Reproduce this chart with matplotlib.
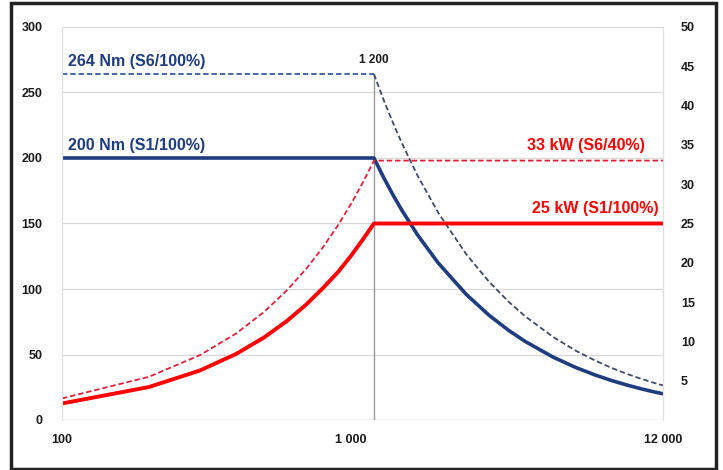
import matplotlib
matplotlib.use('Agg')
import matplotlib.pyplot as plt
from matplotlib.patches import Rectangle
from matplotlib.ticker import FixedLocator, FixedFormatter, NullLocator

plt.rcParams['font.family'] = ['Liberation Sans', 'DejaVu Sans']

# Speed (rpm) points
speed_torque = [100, 1200, 1300, 1400, 1500, 1700, 2000, 2500, 3000, 3500, 4000,
                5000, 6000, 7000, 8000, 9000, 10000, 11000, 12000]
torque_s1 = [200, 200, 184.6, 171.4, 160, 141.2, 120, 96, 80, 68.6, 60,
             48, 40, 34.3, 30, 26.7, 24, 21.8, 20]                       # Nm
torque_s6 = [264, 264, 243.7, 226.3, 211.2, 186.4, 158.4, 126.7, 105.6, 90.5, 79.2,
             63.4, 52.8, 45.3, 39.6, 35.2, 31.7, 28.8, 26.4]             # Nm

speed_power = [100, 200, 300, 400, 500, 600, 700, 800, 900, 1000, 1100, 1200, 12000]
power_s1 = [2.1, 4.2, 6.3, 8.4, 10.5, 12.6, 14.7, 16.8, 18.8, 20.9, 23.0, 25, 25]   # kW
power_s6 = [2.75, 5.5, 8.25, 11.0, 13.75, 16.5, 19.25, 22.0, 24.75, 27.5, 30.25, 33, 33]  # kW

corner_speed = 1200
x_ticks = [100, 1000, 12000]
x_labels = ['100', '1 000', '12 000']
left_ticks = [0, 50, 100, 150, 200, 250, 300]
right_ticks = [5, 10, 15, 20, 25, 30, 35, 40, 45, 50]

navy = '#1f3c7e'
red = '#ff0000'
red_dash = '#e0203a'

fig = plt.figure(figsize=(7.23, 4.70), dpi=100)
ax = fig.add_axes([62 / 723, 50 / 470, 601 / 723, 393 / 470])
ax2 = ax.twinx()

# torque curves (left axis)
ax.plot(speed_torque[:2], torque_s6[:2], color='#3a5a9a', lw=1.3, dashes=(3, 1.6))
ax.plot(speed_torque[1:], torque_s6[1:], color='#404a66', lw=1.3, dashes=(3, 1.6))
ax.plot(speed_torque, torque_s1, color=navy, lw=2.6, solid_joinstyle='round')
ax.plot([corner_speed, corner_speed], [0, torque_s6[0]], color='#9a9a9a', lw=1.0, zorder=1)

# power curves (right axis)
ax2.plot(speed_power, power_s6, color=red_dash, lw=1.3, dashes=(3, 1.6))
ax2.plot(speed_power, power_s1, color=red, lw=2.8, solid_joinstyle='round')

ax.set_xscale('log')
ax.set_xlim(100, 12000)
ax.set_ylim(0, 300)
ax2.set_ylim(0, 50)

ax.xaxis.set_major_locator(FixedLocator(x_ticks))
ax.xaxis.set_major_formatter(FixedFormatter(x_labels))
ax.xaxis.set_minor_locator(NullLocator())
ax.set_yticks(left_ticks)
ax2.set_yticks(right_ticks)

ax.grid(axis='y', color='#d9d9d9', lw=0.9)
ax.set_axisbelow(True)
for a in (ax, ax2):
    a.spines['top'].set_visible(False)
    a.spines['bottom'].set_visible(False)
    a.spines['left'].set_color('#e0e0e0')
    a.spines['right'].set_color('#e0e0e0')
    a.tick_params(length=0, labelsize=9, colors='#1a1a1a')
    for lbl in a.get_xticklabels() + a.get_yticklabels():
        lbl.set_fontweight('bold')
ax.tick_params(axis='y', pad=14)
ax.tick_params(axis='x', pad=10)
ax2.tick_params(axis='y', pad=13)
ax.axhline(0, color='#e0e0e0', lw=1.0, zorder=0)

# labels
ax.text(105, 268, '264 Nm (S6/100%)', color=navy, fontsize=11.5, fontweight='bold', va='bottom')
ax.text(105, 204, '200 Nm (S1/100%)', color=navy, fontsize=11.5, fontweight='bold', va='bottom')
ax2.text(10400, 34, '33 kW (S6/40%)', color=red, fontsize=11.5, fontweight='bold', va='bottom', ha='right')
ax2.text(11600, 26, '25 kW (S1/100%)', color=red, fontsize=11.5, fontweight='bold', va='bottom', ha='right')
ax.text(corner_speed, 270, '1 200', color='#1a1a1a', fontsize=8.5, fontweight='bold', ha='center', va='bottom')

fig.patches.append(Rectangle((11 / 723, 1 / 470), 705 / 723, 466 / 470, transform=fig.transFigure,
                             fill=False, edgecolor='#222222', lw=2.5))

fig.savefig('out.png', dpi=100)
